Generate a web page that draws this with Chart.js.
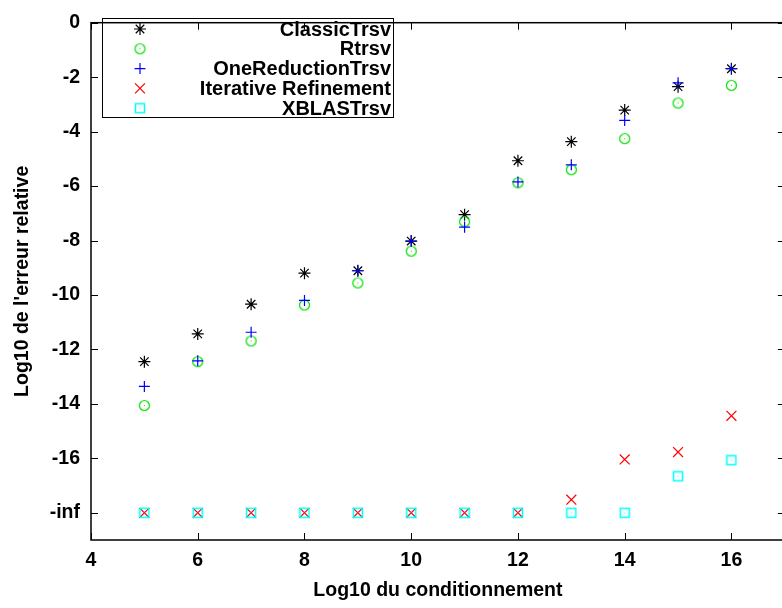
<!DOCTYPE html>
<html>
<head>
<meta charset="utf-8">
<script src="https://cdn.jsdelivr.net/npm/chart.js@4"></script>
<style>
  html, body { margin: 0; padding: 0; background: #fff; overflow: hidden; }
</style>
</head>
<body>
<canvas id="chart" width="793" height="608"></canvas>
<script>
// Log10 du conditionnement
const conditionnement = [5, 6, 7, 8, 9, 10, 11, 12, 13, 14, 15, 16];
// Log10 de l'erreur relative (-Infinity = erreur nulle, placée sur "-inf")
const classicTrsv = [-12.45, -11.43, -10.34, -9.20, -9.11, -8.02, -7.05, -5.07, -4.37, -3.21, -2.35, -1.69];
const rtrsv = [-14.06, -12.45, -11.69, -10.37, -9.56, -8.39, -7.31, -5.88, -5.40, -4.26, -2.95, -2.30];
const oneReductionTrsv = [-13.36, -12.42, -11.37, -10.20, -9.11, -8.02, -7.51, -5.85, -5.22, -3.59, -2.21, -1.69];
const iterativeRefinement = [-Infinity, -Infinity, -Infinity, -Infinity, -Infinity, -Infinity, -Infinity, -Infinity, -17.52, -16.04, -15.77, -14.44];
const xblasTrsv = [-Infinity, -Infinity, -Infinity, -Infinity, -Infinity, -Infinity, -Infinity, -Infinity, -Infinity, -Infinity, -16.66, -16.07];

const xTicks = [4, 6, 8, 10, 12, 14, 16];
const yTicks = [-18, -16, -14, -12, -10, -8, -6, -4, -2, 0];
const INF_POS = -18;  // ou l'on met -inf

const FAMILY = "'Liberation Sans', Arial, Helvetica, sans-serif";
const FONT = { family: FAMILY, size: 19.5, weight: 'bold' };

// ============================================================
// Marqueurs gnuplot (cercle pointé, carré pointé)
// ============================================================
function dottedCircle(color) {
  const c = document.createElement('canvas');
  c.width = 13; c.height = 13;
  const g = c.getContext('2d');
  g.strokeStyle = color; g.fillStyle = color; g.lineWidth = 1.2;
  g.beginPath(); g.arc(6.5, 6.5, 5, 0, Math.PI * 2); g.stroke();
  g.fillRect(6, 6, 1, 1);
  return c;
}
function dottedSquare(color) {
  const c = document.createElement('canvas');
  c.width = 12; c.height = 12;
  const g = c.getContext('2d');
  g.strokeStyle = color; g.fillStyle = color; g.lineWidth = 1.5;
  g.strokeRect(1.5, 1.5, 9, 9);
  g.fillRect(5.5, 5.5, 1, 1);
  return c;
}

function toPoints(values) {
  return conditionnement.map((x, i) => ({ x, y: values[i] === -Infinity ? INF_POS : values[i] }));
}

const datasets = [
  { label: 'ClassicTrsv', data: toPoints(classicTrsv), pointStyle: 'star', pointRadius: 6, borderColor: '#000000', order: 5 },
  { label: 'Rtrsv', data: toPoints(rtrsv), pointStyle: dottedCircle('#00e000'), pointRadius: 6, borderColor: '#00e000', order: 4 },
  { label: 'OneReductionTrsv', data: toPoints(oneReductionTrsv), pointStyle: 'cross', pointRadius: 5.5, borderColor: '#0000ff', order: 3 },
  { label: 'Iterative Refinement', data: toPoints(iterativeRefinement), pointStyle: 'crossRot', pointRadius: 7, borderColor: '#ff0000', order: 2 },
  { label: 'XBLASTrsv', data: toPoints(xblasTrsv), pointStyle: dottedSquare('#00ffff'), pointRadius: 6, borderColor: '#00ffff', order: 1 },
].map(d => Object.assign(d, { showLine: false, borderWidth: 1.2, backgroundColor: d.borderColor, pointHoverRadius: d.pointRadius }));

// ============================================================
// Cadre + graduations vers l'interieur (style gnuplot)
// ============================================================
const framePlugin = {
  id: 'frame',
  beforeDatasetsDraw(chart) {
    const { ctx, chartArea: a, scales: { x, y } } = chart;
    ctx.save();
    ctx.strokeStyle = '#000';
    ctx.lineWidth = 1.5;
    ctx.strokeRect(a.left, a.top, a.right - a.left, a.bottom - a.top);
    ctx.lineWidth = 1;
    ctx.beginPath();
    for (const t of x.ticks) {
      const px = Math.round(x.getPixelForValue(t.value)) + 0.5;
      ctx.moveTo(px, a.bottom); ctx.lineTo(px, a.bottom - 7);
      ctx.moveTo(px, a.top); ctx.lineTo(px, a.top + 7);
    }
    for (const t of y.ticks) {
      const py = Math.round(y.getPixelForValue(t.value)) + 0.5;
      ctx.moveTo(a.left, py); ctx.lineTo(a.left + 7, py);
      ctx.moveTo(a.right, py); ctx.lineTo(a.right - 7, py);
    }
    ctx.stroke();
    ctx.restore();
  }
};

// Legende encadree, marqueur a gauche, texte aligne a droite
const legendPlugin = {
  id: 'gpLegend',
  afterDraw(chart) {
    const ctx = chart.ctx;
    ctx.save();
    ctx.strokeStyle = '#000';
    ctx.lineWidth = 1;
    ctx.strokeRect(102.5, 18.5, 291, 99);
    ctx.font = `bold 20px ${FAMILY}`;
    ctx.textAlign = 'right';
    ctx.textBaseline = 'middle';
    chart.data.datasets.forEach((d, i) => {
      const yy = 29 + i * 19.8;
      ctx.strokeStyle = d.borderColor;
      ctx.fillStyle = d.borderColor;
      ctx.lineWidth = d.borderWidth;
      Chart.helpers.drawPoint(ctx, { pointStyle: d.pointStyle, radius: d.pointRadius, rotation: 0, borderWidth: d.borderWidth }, 140, yy);
      ctx.fillStyle = '#000';
      ctx.fillText(d.label, 391, yy + 1);
    });
    ctx.restore();
  }
};

new Chart(document.getElementById('chart'), {
  type: 'scatter',
  data: { datasets },
  options: {
    responsive: false,
    animation: false,
    layout: { padding: { left: 0, top: 14, right: 0, bottom: 0 } },
    plugins: { legend: { display: false }, tooltip: { enabled: false } },
    scales: {
      x: {
        type: 'linear', min: 4, max: 17,
        afterBuildTicks: s => { s.ticks = xTicks.map(v => ({ value: v })); },
        afterFit: s => { s.height = 68; },
        grid: { display: false, drawTicks: false },
        border: { display: false },
        ticks: { color: '#000', font: FONT, padding: 9, maxRotation: 0 },
        title: { display: true, text: 'Log10 du conditionnement', color: '#000', font: FONT, padding: { top: 0, bottom: 6 } },
      },
      y: {
        type: 'linear', min: -19, max: 0,
        afterBuildTicks: s => { s.ticks = yTicks.map(v => ({ value: v })); },
        afterFit: s => { s.width = 91; },
        grid: { display: false, drawTicks: false },
        border: { display: false },
        ticks: { color: '#000', font: FONT, padding: 11, callback: v => v === INF_POS ? '-inf' : v },
        title: { display: true, text: "Log10 de l'erreur relative", color: '#000', font: FONT, padding: { top: 11, bottom: 0 } },
      },
    },
  },
  plugins: [framePlugin, legendPlugin],
});
</script>
</body>
</html>
